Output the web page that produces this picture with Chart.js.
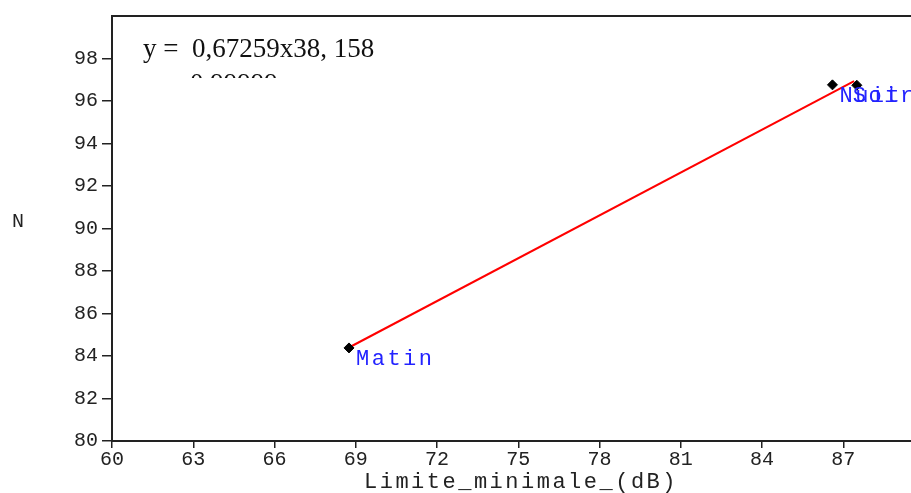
<!DOCTYPE html>
<html>
<head>
<meta charset="utf-8">
<script src="https://cdn.jsdelivr.net/npm/chart.js@4.4.1/dist/chart.umd.min.js"></script>
<style>
  html, body { margin: 0; padding: 0; background: #fff; }
  #wrap { width: 911px; height: 493px; position: relative; }
</style>
</head>
<body>
<div id="wrap"><canvas id="c" width="911" height="493"></canvas></div>
<script>
// observed points (Limite minimale dB, N)
const pointNames = ['Matin', 'Nuit', 'Soir'];
const pointX = [68.75, 86.6, 87.5];
const pointY = [84.38, 96.76, 96.74];

// fitted line, read from its two ends
const fitX = [68.75, 87.4];
const fitY = [84.4, 96.94];

const xTicks = [60, 63, 66, 69, 72, 75, 78, 81, 84, 87];
const yTicks = [80, 82, 84, 86, 88, 90, 92, 94, 96, 98];

const equationText = 'y =  0,67259x38, 158';
const r2Text = '0,99999';
const xTitle = 'Limite_minimale_(dB)';
const yTitle = 'N';

const mono = '"Liberation Mono", "DejaVu Sans Mono", monospace';
const serif = '"Liberation Serif", "DejaVu Serif", serif';

// extra drawing: frame top, labels, equation, titles
const annotate = {
    id: 'annotate',
    afterDraw(chart) {
        const ctx = chart.ctx;
        const a = chart.chartArea;
        const xs = chart.scales.x, ys = chart.scales.y;
        ctx.save();

        // top edge of the frame
        ctx.strokeStyle = '#222';
        ctx.lineWidth = 2;
        ctx.beginPath();
        ctx.moveTo(a.left - 1, a.top);
        ctx.lineTo(chart.width, a.top);
        ctx.stroke();

        // point labels
        ctx.fillStyle = '#2323ff';
        ctx.font = '22px ' + mono;
        ctx.letterSpacing = '2.5px';
        ctx.textBaseline = 'middle';
        ctx.textAlign = 'left';
        const offs = [7, 7, -4];
        pointNames.forEach((name, i) => {
            const px = xs.getPixelForValue(pointX[i]);
            const py = ys.getPixelForValue(pointY[i]);
            ctx.fillText(name, px + offs[i], py + 11);
        });

        // regression equation
        ctx.letterSpacing = '0px';
        ctx.fillStyle = '#111';
        ctx.font = '27px ' + serif;
        ctx.textBaseline = 'alphabetic';
        ctx.fillText(equationText, 143, 57);

        // R2 line, clipped as in the source
        ctx.save();
        ctx.beginPath();
        ctx.rect(150, 60, 200, 18);
        ctx.clip();
        ctx.fillText(r2Text, 190, 92);
        ctx.restore();

        // caption cut off at the top
        ctx.font = '22px ' + serif;
        ctx.textAlign = 'right';
        ctx.fillText('selon le temps, Lmin, Lmax (figure 9)', 800, -5);

        // axis titles
        ctx.fillStyle = '#222';
        ctx.textAlign = 'center';
        ctx.textBaseline = 'middle';
        ctx.font = '22px ' + mono;
        ctx.letterSpacing = '2.5px';
        ctx.fillText(xTitle, 521, 482);
        ctx.letterSpacing = '0px';
        ctx.font = '20px ' + mono;
        ctx.fillText(yTitle, 18, 222);
        ctx.restore();
    }
};

new Chart(document.getElementById('c').getContext('2d'), {
    type: 'scatter',
    data: {
        datasets: [{
            label: 'fit',
            data: fitX.map((x, i) => ({ x: x, y: fitY[i] })),
            showLine: true,
            borderColor: '#ff0000',
            borderWidth: 2,
            pointRadius: 0,
            order: 2
        }, {
            label: 'points',
            data: pointX.map((x, i) => ({ x: x, y: pointY[i] })),
            backgroundColor: '#000',
            borderColor: '#000',
            pointStyle: 'rectRot',
            pointRadius: 5,
            order: 1
        }]
    },
    options: {
        responsive: false,
        animation: false,
        layout: { autoPadding: false, padding: { top: 14, right: 0, left: 0, bottom: 0 } },
        plugins: { legend: { display: false }, tooltip: { enabled: false } },
        scales: {
            x: {
                type: 'linear',
                min: 60,
                max: 89.5,
                afterBuildTicks: s => { s.ticks = xTicks.map(v => ({ value: v })); },
                afterFit: s => { s.height = 52; },
                ticks: { color: '#222', font: { family: mono, size: 20 }, padding: 0, maxRotation: 0, autoSkip: false },
                grid: { display: true, drawOnChartArea: false, drawTicks: true, tickLength: 7, color: '#222', lineWidth: 1.5 },
                border: { display: true, color: '#222', width: 2 }
            },
            y: {
                type: 'linear',
                min: 80,
                max: 100,
                afterBuildTicks: s => { s.ticks = yTicks.map(v => ({ value: v })); },
                afterFit: s => { s.width = 112; },
                ticks: { color: '#222', font: { family: mono, size: 20 }, padding: 4, autoSkip: false },
                grid: { display: true, drawOnChartArea: false, drawTicks: true, tickLength: 10, color: '#222', lineWidth: 1.5 },
                border: { display: true, color: '#222', width: 2 }
            }
        }
    },
    plugins: [annotate]
});
</script>
</body>
</html>
